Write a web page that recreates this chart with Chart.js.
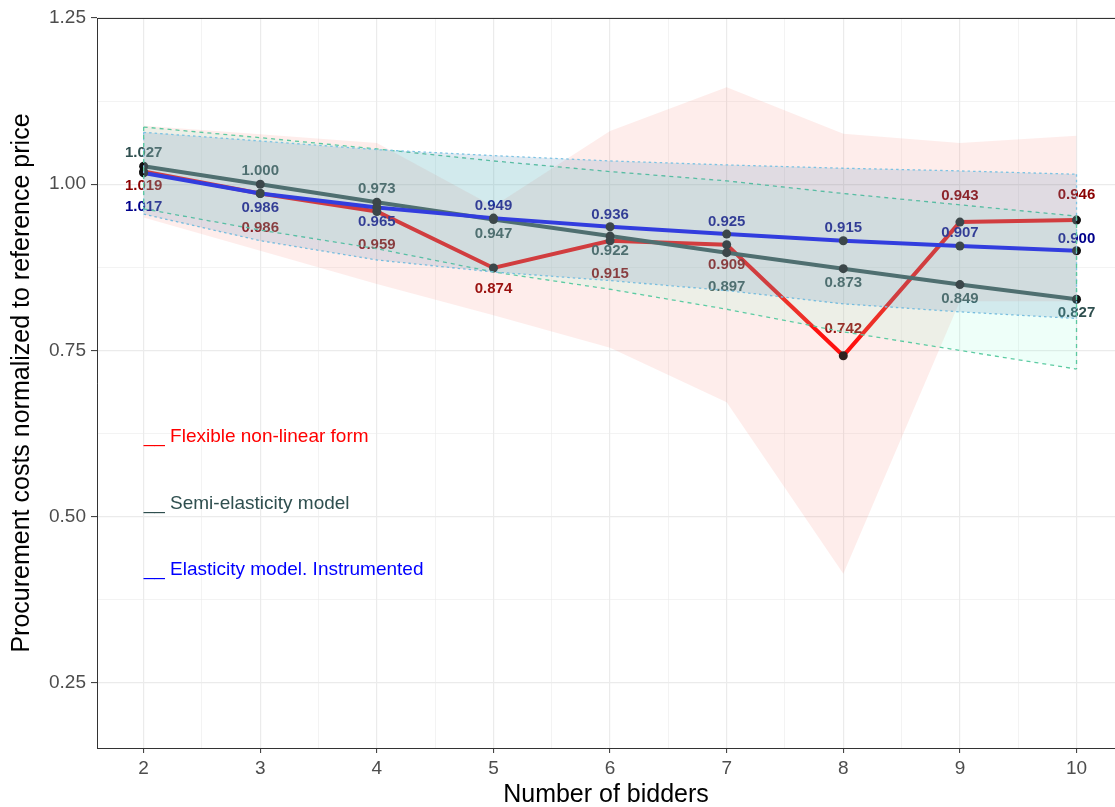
<!DOCTYPE html>
<html>
<head>
<meta charset="utf-8">
<title>Procurement costs by number of bidders</title>
<script src="https://cdn.jsdelivr.net/npm/chart.js@4.4.1/dist/chart.umd.min.js"></script>
<style>
  html, body { margin: 0; padding: 0; background: #fff; overflow: hidden; }
  canvas { display: block; }
</style>
</head>
<body>
<canvas id="chart" width="1115" height="807"></canvas>
<script>
// number of bidders
const bidders = [2, 3, 4, 5, 6, 7, 8, 9, 10];

// point estimates
const flexible = [1.019, 0.986, 0.959, 0.874, 0.915, 0.909, 0.742, 0.943, 0.946];
const semiElastic = [1.027, 1.000, 0.973, 0.947, 0.922, 0.897, 0.873, 0.849, 0.827];
const elastic = [1.017, 0.986, 0.965, 0.949, 0.936, 0.925, 0.915, 0.907, 0.900];

// confidence bands
const flexibleUpper = [1.088, 1.075, 1.062, 0.967, 1.080, 1.146, 1.076, 1.062, 1.073];
const flexibleLower = [0.950, 0.900, 0.850, 0.803, 0.754, 0.672, 0.414, 0.824, 0.824];
const semiUpper = [1.086, 1.070, 1.053, 1.035, 1.019, 1.005, 0.986, 0.969, 0.952];
const semiLower = [0.963, 0.931, 0.903, 0.868, 0.842, 0.812, 0.778, 0.750, 0.722];
const elasticUpper = [1.078, 1.065, 1.052, 1.043, 1.035, 1.029, 1.024, 1.020, 1.015];
const elasticLower = [0.955, 0.915, 0.886, 0.868, 0.855, 0.840, 0.820, 0.808, 0.798];

// axis ticks
const xTicks = [2, 3, 4, 5, 6, 7, 8, 9, 10];
const xMinor = [2.5, 3.5, 4.5, 5.5, 6.5, 7.5, 8.5, 9.5];
const yTicks = [0.25, 0.5, 0.75, 1.0, 1.25];
const yTickLabels = ["0.25", "0.50", "0.75", "1.00", "1.25"];
const yMinor = [0.375, 0.625, 0.875, 1.125];

// legend notes
const noteText = ["__ Flexible non-linear form", "__ Semi-elasticity model", "__ Elasticity model. Instrumented"];
const noteY = [0.62, 0.52, 0.42];

const FONT = "'Liberation Sans', Arial, Helvetica, sans-serif";
const RED = "#ff0000", SLATE = "#2f4f4f", BLUE = "#0000ff";

const pts = (ys) => ys.map((y, i) => ({ x: bidders[i], y: y }));

// label nudges in px (positive = below the point)
const labelSets = [
  { values: flexible, color: "#8b0000", shift: [14, 34, 33, 21, 33, 20, -27, -26, -25] },
  { values: semiElastic, color: SLATE, shift: [-13, -13, -13, 14, 15, 34, 14, 14, 14] },
  { values: elastic, color: "#00008b", shift: [34, 14, 14, -12, -12, -12, -13, -13, -12] },
];

function ribbon(upper, lower, fillColor, lineColor, dash) {
  return [
    {
      data: pts(upper), fill: "+1", backgroundColor: fillColor,
      borderColor: lineColor, borderWidth: lineColor ? 1.3 : 0, borderDash: dash,
      pointRadius: 0, tension: 0,
    },
    {
      data: pts(lower), fill: false,
      borderColor: lineColor || "rgba(0,0,0,0)", borderWidth: lineColor ? 1.3 : 0, borderDash: dash,
      pointRadius: 0, tension: 0,
    },
  ];
}

function line(values, color) {
  return {
    data: pts(values), fill: false, borderColor: color, borderWidth: 4,
    pointRadius: 4.5, pointBackgroundColor: "#111", pointBorderWidth: 0, tension: 0,
  };
}

// index 0 is drawn last, so the bands sit over the lines
const datasets = [
  ...ribbon(elasticUpper, elasticLower, "rgba(70,130,180,0.17)", "#7dc3e3", [2.5, 3]),
  ...ribbon(semiUpper, semiLower, "rgba(127,255,212,0.13)", "#5cc8a0", [4, 4]),
  ...ribbon(flexibleUpper, flexibleLower, "rgba(250,128,114,0.14)", null, []),
  line(elastic, BLUE),
  line(semiElastic, SLATE),
  line(flexible, RED),
];
const LAST_LINE = 6;

const isMajorX = (v) => xTicks.includes(v);
const isMajorY = (v) => yTicks.some((t) => Math.abs(t - v) < 1e-9);

const annotate = {
  id: "annotate",
  afterDatasetDraw(chart, args) {
    if (args.index !== LAST_LINE) return;
    const { ctx, scales: { x, y } } = chart;
    ctx.save();
    ctx.font = "bold 15px " + FONT;
    ctx.textAlign = "center";
    ctx.textBaseline = "middle";
    labelSets.forEach((set) => {
      ctx.fillStyle = set.color;
      set.values.forEach((v, i) => {
        ctx.fillText(v.toFixed(3), x.getPixelForValue(bidders[i]), y.getPixelForValue(v) + set.shift[i]);
      });
    });
    ctx.restore();
  },
  afterDatasetsDraw(chart) {
    const { ctx, scales: { x, y } } = chart;
    const last = bidders.length - 1;
    ctx.save();
    ctx.lineWidth = 1.3;
    [[elasticUpper, elasticLower, "#7dc3e3", [2.5, 3]], [semiUpper, semiLower, "#5cc8a0", [4, 4]]].forEach(([up, lo, col, dash]) => {
      ctx.strokeStyle = col;
      ctx.setLineDash(dash);
      [0, last].forEach((i) => {
        const px = x.getPixelForValue(bidders[i]);
        ctx.beginPath();
        ctx.moveTo(px, y.getPixelForValue(up[i]));
        ctx.lineTo(px, y.getPixelForValue(lo[i]));
        ctx.stroke();
      });
    });
    ctx.restore();
  },
  afterDraw(chart) {
    const { ctx, chartArea, scales: { x, y } } = chart;
    ctx.save();
    // top of the panel border
    ctx.strokeStyle = "#333";
    ctx.lineWidth = 1;
    ctx.beginPath();
    ctx.moveTo(chartArea.left, chartArea.top + 0.5);
    ctx.lineTo(chartArea.right, chartArea.top + 0.5);
    ctx.stroke();

    ctx.font = "19px " + FONT;
    ctx.textAlign = "left";
    ctx.textBaseline = "middle";
    [RED, SLATE, BLUE].forEach((col, i) => {
      ctx.fillStyle = col;
      ctx.fillText(noteText[i], x.getPixelForValue(2), y.getPixelForValue(noteY[i]));
    });
    ctx.restore();
  },
};

new Chart(document.getElementById("chart"), {
  type: "line",
  data: { datasets: datasets },
  plugins: [annotate],
  options: {
    responsive: false,
    animation: false,
    devicePixelRatio: 1,
    layout: { autoPadding: false, padding: { top: 18, right: 0, bottom: 0, left: 0 } },
    plugins: { legend: { display: false }, tooltip: { enabled: false } },
    scales: {
      x: {
        type: "linear",
        min: 1.6,
        max: 10.33,
        afterBuildTicks: (s) => { s.ticks = xTicks.concat(xMinor).sort((a, b) => a - b).map((v) => ({ value: v })); },
        afterFit: (s) => {
          s.height = 59;
          // panel runs right to the canvas edge, as in the cropped original
          s.paddingLeft = 0;
          s.paddingRight = 0;
        },
        grid: {
          color: "#ebebeb",
          lineWidth: (c) => (c.tick && isMajorX(c.tick.value) ? 1.2 : 0.6),
          tickColor: (c) => (c.tick && isMajorX(c.tick.value) ? "#333" : "rgba(0,0,0,0)"),
          tickLength: 5,
          tickWidth: 1,
        },
        border: { display: true, color: "#333", width: 1 },
        ticks: {
          autoSkip: false,
          maxRotation: 0,
          padding: 4,
          color: "#4d4d4d",
          font: { size: 19, family: FONT },
          callback: (v) => (isMajorX(v) ? String(v) : ""),
        },
        title: {
          display: true,
          text: "Number of bidders",
          color: "#000",
          font: { size: 25, family: FONT, lineHeight: 1 },
          padding: { top: 0, bottom: -1 },
        },
      },
      y: {
        type: "linear",
        min: 0.152,
        max: 1.25,
        afterBuildTicks: (s) => { s.ticks = yTicks.concat(yMinor).sort((a, b) => a - b).map((v) => ({ value: v })); },
        afterFit: (s) => { s.width = 97; },
        grid: {
          color: "#ebebeb",
          lineWidth: (c) => (c.tick && isMajorY(c.tick.value) ? 1.2 : 0.6),
          tickColor: (c) => (c.tick && isMajorY(c.tick.value) ? "#333" : "rgba(0,0,0,0)"),
          tickLength: 6,
          tickWidth: 1,
        },
        border: { display: true, color: "#333", width: 1 },
        ticks: {
          autoSkip: false,
          padding: 5,
          color: "#4d4d4d",
          font: { size: 19, family: FONT },
          callback: (v) => {
            const k = yTicks.findIndex((t) => Math.abs(t - v) < 1e-9);
            return k >= 0 ? yTickLabels[k] : "";
          },
        },
        title: {
          display: true,
          text: "Procurement costs normalized to reference price",
          color: "#000",
          font: { size: 25, family: FONT, lineHeight: 1 },
          padding: { top: 10, bottom: 0 },
        },
      },
    },
  },
});
</script>
</body>
</html>
